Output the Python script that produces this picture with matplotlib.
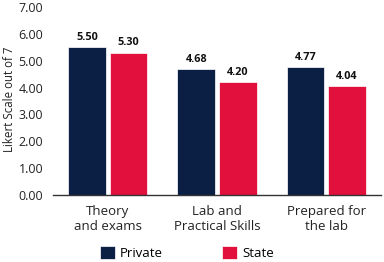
import matplotlib
matplotlib.use("Agg")
import matplotlib.pyplot as plt
import numpy as np

categories = ["Theory\nand exams", "Lab and\nPractical Skills", "Prepared for\nthe lab"]
private = [5.50, 4.68, 4.77]
state = [5.30, 4.20, 4.04]
series_names = ["Private", "State"]
yticks = [0, 1, 2, 3, 4, 5, 6, 7]

plt.rcParams['font.family'] = ['Open Sans', 'DejaVu Sans']

W, H = 384, 262
fig = plt.figure(figsize=(W/100, H/100), dpi=100)
ax = fig.add_axes([53/W, (H-195)/H, (381-53)/W, (195-7)/H])

navy = '#0b1f45'
red = '#e2103c'
x = np.arange(len(categories))
bw = 0.345
off = 0.19
b1 = ax.bar(x - off, private, bw, color=navy, edgecolor='white', linewidth=0.5, label=series_names[0])
b2 = ax.bar(x + off, state, bw, color=red, edgecolor='white', linewidth=0.5, label=series_names[1])

for bars, vals in ((b1, private), (b2, state)):
    for rect, v in zip(bars, vals):
        ax.annotate(f"{v:.2f}", (rect.get_x() + rect.get_width()/2, v),
                    xytext=(0, 3), textcoords='offset points', ha='center', va='bottom',
                    fontsize=7.8, fontweight='bold', color='#111111')

ax.set_xlim(-0.5, len(categories) - 0.5)
ax.set_ylim(0, 7)
ax.set_yticks(yticks)
ax.set_yticklabels([f"{t:.2f}" for t in yticks], fontsize=9, color='#222222')
ax.set_xticks(x)
ax.set_xticklabels(categories, fontsize=9.5, color='#222222', linespacing=1.2)
ax.tick_params(axis='both', length=0)
ax.tick_params(axis='y', pad=7)
ax.tick_params(axis='x', pad=7)
for s in ['top', 'right', 'left']:
    ax.spines[s].set_visible(False)
ax.spines['bottom'].set_color('#333333')
ax.spines['bottom'].set_linewidth(1.0)
ax.set_ylabel("Likert Scale out of 7", fontsize=8.3, color='#222222')
ax.yaxis.set_label_coords(-0.113, 0.51)

fig.legend(handles=[b1, b2], labels=series_names, loc='center', bbox_to_anchor=(187/W, 1 - 253/H),
           ncol=2, frameon=False, fontsize=9.5, handlelength=1.1, handleheight=1.1,
           columnspacing=4.5, handletextpad=0.4)

fig.savefig("out.png", dpi=100)
